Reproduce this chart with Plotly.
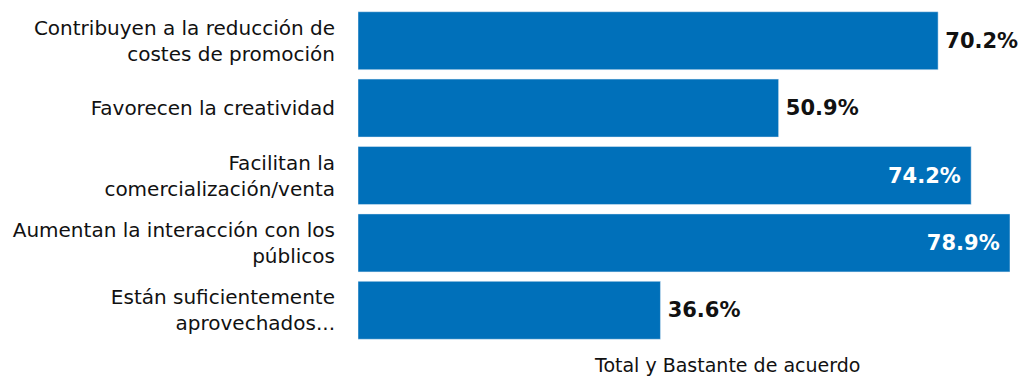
import plotly.graph_objects as go

categories = [
    "Contribuyen a la reducción de<br>costes de promoción",
    "Favorecen la creatividad",
    "Facilitan la<br>comercialización/venta",
    "Aumentan la interacción con los<br>públicos",
    "Están suficientemente<br>aprovechados...",
]
values = [70.2, 50.9, 74.2, 78.9, 36.6]
positions = ["outside", "outside", "inside", "inside", "outside"]
axis_title = "Total y Bastante de acuerdo"

labels = [
    (f"{v:.1f}%\u00a0" if p == "inside" else f"\u2009{v:.1f}%")
    for v, p in zip(values, positions)
]

FONT = "DejaVu Sans, sans-serif"

fig = go.Figure(go.Bar(
    x=values,
    y=categories,
    orientation="h",
    marker=dict(color="#0070BA"),
    text=labels,
    textposition=positions,
    insidetextanchor="end",
    insidetextfont=dict(color="white", size=21, family=FONT, weight="bold"),
    outsidetextfont=dict(color="#111111", size=21, family=FONT, weight="bold"),
    cliponaxis=False,
    hoverinfo="skip",
))

fig.update_layout(
    width=1018, height=377,
    margin=dict(l=358, r=8, t=7, b=33),
    paper_bgcolor="white", plot_bgcolor="white",
    bargap=0.14,
    showlegend=False,
    font=dict(family=FONT, size=20, color="#111111"),
    xaxis=dict(range=[0, 78.9], showticklabels=False, showgrid=False,
               zeroline=False, showline=False, fixedrange=True),
    yaxis=dict(autorange="reversed", showgrid=False, zeroline=False,
               showline=False, ticks="", ticklabelstandoff=22,
               tickfont=dict(size=20, family=FONT, color="#111111")),
    annotations=[dict(text=axis_title, xref="paper", yref="paper",
                      x=0.566, y=0, yshift=-21, xanchor="center", yanchor="middle",
                      showarrow=False, font=dict(size=19, family=FONT, color="#111111"))],
)

fig.write_html("out.html")
